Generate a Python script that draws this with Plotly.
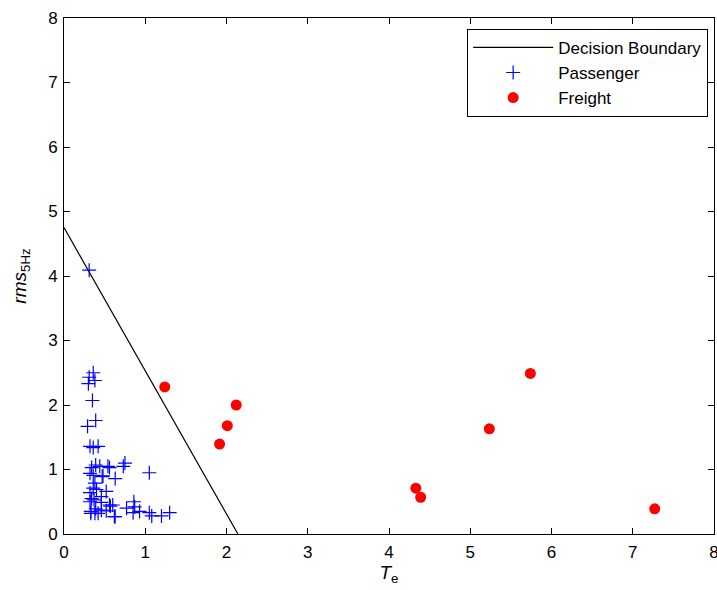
import plotly.graph_objects as go

boundary_x = [0.0, 2.14]
boundary_y = [4.75, 0.0]

passenger_x = [0.31, 0.36, 0.31, 0.38, 0.30, 0.35, 0.39, 0.29,
               0.32, 0.36, 0.42, 0.34, 0.39, 0.44, 0.54, 0.56,
               0.32, 0.36, 0.48, 0.63, 0.47, 0.38, 0.36, 0.40,
               0.52, 0.32, 0.34, 0.46, 0.32, 0.37, 0.46, 0.56,
               0.33, 0.39, 0.42, 0.46, 0.52, 0.63, 0.38, 0.33,
               0.75, 0.73, 1.05, 0.60, 0.77, 0.86, 0.87, 0.85,
               0.93, 1.05, 1.08, 1.20, 1.30, 0.57, 0.62]
passenger_y = [4.09, 2.50, 2.43, 2.38, 2.33, 2.07, 1.76, 1.67,
               1.36, 1.34, 1.36, 1.03, 1.07, 1.05, 1.05, 1.03,
               0.94, 0.91, 0.90, 0.86, 0.89, 0.79, 0.71, 0.69,
               0.66, 0.64, 0.55, 0.58, 0.50, 0.53, 0.49, 0.45,
               0.35, 0.39, 0.32, 0.37, 0.36, 0.27, 0.32, 0.32,
               1.10, 1.05, 0.95, 0.45, 0.40, 0.50, 0.42, 0.33,
               0.35, 0.33, 0.28, 0.28, 0.33, 0.43, 0.27]

freight_x = [1.24, 2.12, 2.01, 1.915, 4.33, 4.39, 5.235, 5.74, 7.27]
freight_y = [2.28, 2.00, 1.68, 1.395, 0.71, 0.57, 1.63, 2.49, 0.39]

x_ticks = [0, 1, 2, 3, 4, 5, 6, 7, 8]
y_ticks = [0, 1, 2, 3, 4, 5, 6, 7, 8]

FONT = "Liberation Sans, Arial, Helvetica"

fig = go.Figure()
fig.add_trace(go.Scatter(x=boundary_x, y=boundary_y, mode="lines",
                         line=dict(color="black", width=1.2),
                         name="Decision Boundary"))
fig.add_trace(go.Scatter(x=passenger_x, y=passenger_y, mode="markers",
                         marker=dict(symbol="cross-thin", size=10,
                                     line=dict(color="#0000ff", width=1.2),
                                     color="#0000ff"),
                         name="Passenger"))
fig.add_trace(go.Scatter(x=freight_x, y=freight_y, mode="markers",
                         marker=dict(symbol="circle", size=11, color="#ff0000"),
                         name="Freight"))

axis_common = dict(showgrid=False, zeroline=False, showline=True,
                   linecolor="black", linewidth=1, mirror="allticks",
                   ticks="inside", ticklen=6, tickcolor="black",
                   ticklabeloverflow="allow",
                   tickfont=dict(family=FONT, size=17, color="black"))

fig.update_xaxes(range=[0, 8], tickvals=x_ticks, ticktext=[str(v) for v in x_ticks],
                 ticklabelstandoff=3,
                 title=dict(text="<i>T</i><sub>e</sub>", standoff=0,
                            font=dict(family=FONT, size=19, color="black")),
                 **axis_common)
fig.update_yaxes(range=[0, 8], tickvals=y_ticks, ticktext=[str(v) for v in y_ticks],
                 ticklabelstandoff=2,
                 title=dict(text="<i>rms</i><sub>5Hz</sub>", standoff=16,
                            font=dict(family=FONT, size=19, color="black")),
                 **axis_common)

fig.update_layout(
    width=717, height=590,
    margin=dict(l=64, r=3, t=18, b=56, autoexpand=False),
    paper_bgcolor="white", plot_bgcolor="white",
    showlegend=True,
    legend=dict(x=0.991, y=0.979, xanchor="right", yanchor="top",
                bgcolor="white", bordercolor="black", borderwidth=1,
                font=dict(family=FONT, size=17, color="black"),
                tracegroupgap=0, itemwidth=80),
)

fig.write_html("out.html")
